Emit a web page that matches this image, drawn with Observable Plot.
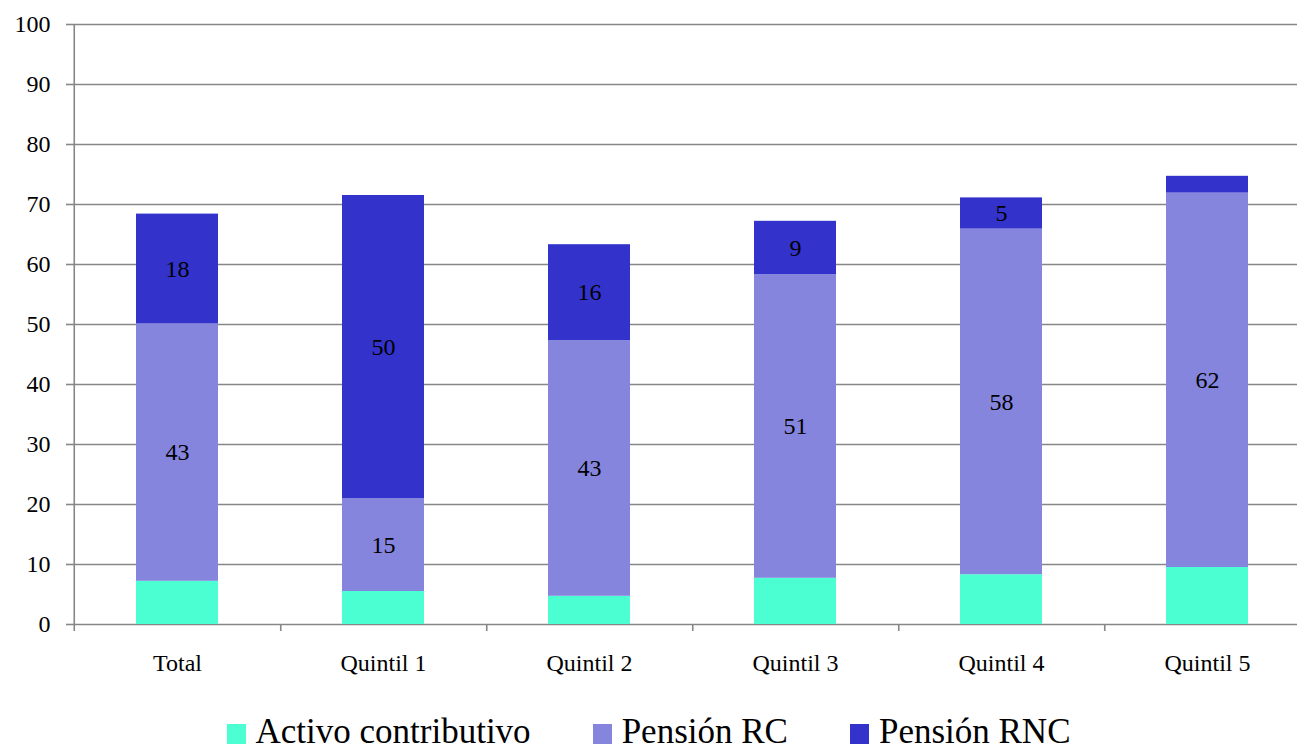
<!DOCTYPE html>
<html><head><meta charset="utf-8">
<script src="https://cdn.jsdelivr.net/npm/d3@7"></script>
<script src="https://cdn.jsdelivr.net/npm/@observablehq/plot@0.6"></script>
<style>
html,body{margin:0;padding:0;background:#fff;overflow:hidden;}
body{font-family:"Liberation Serif","DejaVu Serif","Times New Roman",Times,serif;color:#000;}
#wrap{position:relative;width:1297px;height:751px;overflow:hidden;}
#chart{position:absolute;left:0;top:0;width:1312px;}
#chart svg{max-width:none !important;}
#chart svg text{font-family:"Liberation Serif","DejaVu Serif","Times New Roman",Times,serif;}
#legend{position:absolute;left:0;top:714px;width:1297px;height:36px;display:flex;justify-content:center;align-items:center;gap:62px;font-size:35px;line-height:36px;}
#legend .item{display:flex;align-items:center;}
#legend .sw{width:19px;height:20px;margin-right:10px;margin-top:4px;}
</style></head>
<body>
<div id="wrap"><div id="chart"></div><div id="legend"></div></div>
<script>
const categories = ["Total", "Quintil 1", "Quintil 2", "Quintil 3", "Quintil 4", "Quintil 5"];
const series = ["Activo contributivo", "Pensión RC", "Pensión RNC"];
const colors = ["#4BFFD2", "#8585DE", "#3333CC"];
const activo = [7.2, 5.5, 4.7, 7.7, 8.3, 9.5];
const pensionRC = [42.9, 15.5, 42.6, 50.6, 57.6, 62.4];
const pensionRNC = [18.3, 50.5, 16.0, 8.9, 5.2, 2.8];
const labelsActivo = ["", "", "", "", "", ""];
const labelsRC = ["43", "15", "43", "51", "58", "62"];
const labelsRNC = ["18", "50", "16", "9", "5", ""];
const yTicks = [0, 10, 20, 30, 40, 50, 60, 70, 80, 90, 100];

const valuesBySeries = [activo, pensionRC, pensionRNC];
const labelsBySeries = [labelsActivo, labelsRC, labelsRNC];
const rows = [];
categories.forEach((c, i) => {
  series.forEach((s, j) => {
    rows.push({cat: c, serie: s, value: valuesBySeries[j][i], label: labelsBySeries[j][i] || null});
  });
});

const W = 1312, H = 700, ML = 73, MR = 0;
const step = (W - ML - MR) / categories.length;
const gridColor = "#878787";
const serif = "'Liberation Serif','DejaVu Serif','Times New Roman',Times,serif";

const chart = Plot.plot({
  width: W,
  height: H,
  marginLeft: ML,
  marginRight: MR,
  marginTop: 24,
  marginBottom: 76,
  style: {fontFamily: serif, color: "#000", background: "#fff", maxWidth: "none"},
  x: {type: "band", domain: categories, paddingInner: 0.6, paddingOuter: 0.3, label: null},
  y: {domain: [0, 100], label: null},
  color: {domain: series, range: colors},
  marks: [
    Plot.ruleY(yTicks, {stroke: gridColor, strokeWidth: 1.6}),
    Plot.barY(rows, {x: "cat", y: "value", z: "serie", fill: "serie"}),
    Plot.text(rows, Plot.stackY({x: "cat", y: "value", z: "serie", text: "label", fontSize: 24, fill: "#000", fontFamily: serif})),
    Plot.ruleX([categories[0]], {dx: -step / 2, y1: -7 / 6, y2: 100, stroke: gridColor, strokeWidth: 1.6}),
    Plot.ruleX(categories, {dx: step / 2, y1: -7 / 6, y2: 0, stroke: gridColor, strokeWidth: 1.6}),
    Plot.axisY(yTicks, {tickSize: 7, tickPadding: 16, stroke: gridColor, strokeWidth: 1.6, fontSize: 24, fill: "#000", fontFamily: serif, label: null}),
    Plot.axisX({tickSize: 0, tickPadding: 29, fontSize: 24, fill: "#000", fontFamily: serif, label: null})
  ]
});
document.getElementById("chart").appendChild(chart);

const legend = document.getElementById("legend");
series.forEach((s, j) => {
  const item = document.createElement("div");
  item.className = "item";
  const sw = document.createElement("span");
  sw.className = "sw";
  sw.style.background = colors[j];
  const t = document.createElement("span");
  t.textContent = s;
  item.appendChild(sw);
  item.appendChild(t);
  legend.appendChild(item);
});
</script>
</body></html>
